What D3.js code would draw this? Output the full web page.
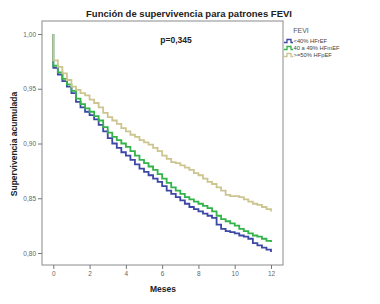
<!DOCTYPE html>
<html>
<head>
<meta charset="utf-8">
<script src="https://cdn.jsdelivr.net/npm/d3@7"></script>
<style>
  body { margin: 0; background: #fff; }
  text { font-family: "Liberation Sans", Arial, sans-serif; }
</style>
</head>
<body>
<svg width="380" height="304"></svg>
<script>
const width = 380;
const height = 304;

// meses (eje x); el primer 0 repetido marca la caída inicial desde 1,00
const months = [0, 0, 0.25, 0.5, 0.75, 1, 1.25, 1.5, 1.75, 2, 2.25, 2.5, 2.75, 3,
    3.25, 3.5, 3.75, 4, 4.25, 4.5, 4.75, 5, 5.25, 5.5, 5.75, 6, 6.25, 6.5, 6.75, 7,
    7.25, 7.5, 7.75, 8, 8.25, 8.5, 8.75, 9, 9.25, 9.5, 9.75, 10, 10.25, 10.5, 10.75,
    11, 11.25, 11.5, 11.75, 12];

const hfrEF = [1.0, 0.969, 0.963, 0.957, 0.952, 0.946, 0.938, 0.933, 0.929, 0.926,
    0.922, 0.917, 0.911, 0.905, 0.900, 0.896, 0.892, 0.889, 0.885, 0.881, 0.877,
    0.874, 0.871, 0.868, 0.865, 0.861, 0.857, 0.854, 0.851, 0.848, 0.845, 0.842,
    0.840, 0.838, 0.836, 0.834, 0.832, 0.826, 0.822, 0.820, 0.819, 0.818, 0.816,
    0.815, 0.813, 0.809, 0.807, 0.805, 0.803, 0.801];

const hfmEF = [1.0, 0.971, 0.965, 0.959, 0.954, 0.948, 0.941, 0.936, 0.932, 0.929,
    0.925, 0.921, 0.915, 0.910, 0.906, 0.903, 0.900, 0.897, 0.893, 0.889, 0.885,
    0.882, 0.879, 0.876, 0.872, 0.868, 0.864, 0.860, 0.857, 0.854, 0.851, 0.849,
    0.847, 0.845, 0.843, 0.841, 0.838, 0.834, 0.831, 0.829, 0.827, 0.825, 0.822,
    0.820, 0.818, 0.816, 0.815, 0.813, 0.811, 0.810];

const hfpEF = [1.0, 0.976, 0.970, 0.964, 0.958, 0.952, 0.949, 0.946, 0.944, 0.940,
    0.937, 0.933, 0.928, 0.924, 0.921, 0.918, 0.914, 0.911, 0.908, 0.906, 0.903,
    0.901, 0.899, 0.896, 0.893, 0.889, 0.886, 0.883, 0.882, 0.880, 0.878, 0.876,
    0.873, 0.871, 0.868, 0.865, 0.863, 0.860, 0.857, 0.853, 0.852, 0.852, 0.851,
    0.849, 0.847, 0.845, 0.844, 0.842, 0.840, 0.838];

const seriesNames = ["<40% HFrEF", "40 a 49% HFmEF", ">=50% HFpEF"];
const seriesValues = [hfrEF, hfmEF, hfpEF];
const colors = ["#3d48a6", "#33b34a", "#cdc590"];

const xTicks = [0, 2, 4, 6, 8, 10, 12];
const yTicks = [0.80, 0.85, 0.90, 0.95, 1.00];

const frame = { left: 42, top: 21, right: 283, bottom: 265 };

const svg = d3.select("svg");

const x = d3.scaleLinear().domain([0, 12]).range([53.3, 271]);
const y = d3.scaleLinear().domain([0.8, 1.0]).range([253, 34]);

// marco del gráfico
svg.append("rect")
    .attr("x", frame.left)
    .attr("y", frame.top)
    .attr("width", frame.right - frame.left)
    .attr("height", frame.bottom - frame.top)
    .attr("fill", "none")
    .attr("stroke", "#8a8a8a")
    .attr("stroke-width", 1);

// ejes
const fmt = (d) => d3.format(".2f")(d).replace(".", ",");

const yAxisG = svg.append("g")
    .attr("transform", `translate(${frame.left},0)`)
    .call(d3.axisLeft(y).tickValues(yTicks).tickSize(4).tickPadding(2).tickFormat(fmt));

const xAxisG = svg.append("g")
    .attr("transform", `translate(0,${frame.bottom})`)
    .call(d3.axisBottom(x).tickValues(xTicks).tickSize(4).tickPadding(2).tickFormat(d3.format("d")));

[yAxisG, xAxisG].forEach((g) => {
    g.select(".domain").remove();
    g.selectAll(".tick line").attr("stroke", "#777");
    g.selectAll(".tick text")
        .attr("fill", "#666")
        .style("font-size", "6.5px")
        .style("font-family", "'Liberation Sans', Arial, sans-serif");
});

// curvas de supervivencia
const line = d3.line()
    .x((d) => x(d[0]))
    .y((d) => y(d[1]))
    .curve(d3.curveStepAfter);

seriesValues.forEach((vals, i) => {
    svg.append("path")
        .attr("d", line(months.map((m, j) => [m, vals[j]])))
        .attr("fill", "none")
        .attr("stroke", colors[i])
        .attr("stroke-width", 1.8);
});

// textos
svg.append("text")
    .attr("x", 189).attr("y", 17)
    .attr("text-anchor", "middle")
    .style("font-size", "9.5px")
    .style("font-weight", "bold")
    .attr("fill", "#222")
    .text("Función de supervivencia para patrones FEVI");

svg.append("text")
    .attr("x", 176).attr("y", 43)
    .attr("text-anchor", "middle")
    .style("font-size", "8.5px")
    .style("font-weight", "bold")
    .attr("fill", "#222")
    .text("p=0,345");

svg.append("text")
    .attr("x", 163).attr("y", 292)
    .attr("text-anchor", "middle")
    .style("font-size", "8.5px")
    .style("font-weight", "bold")
    .attr("fill", "#222")
    .text("Meses");

svg.append("text")
    .attr("transform", "translate(17,144) rotate(-90)")
    .attr("text-anchor", "middle")
    .style("font-size", "8.5px")
    .style("font-weight", "bold")
    .attr("fill", "#222")
    .text("Supervivencia acumulada");

// leyenda
svg.append("text")
    .attr("x", 301).attr("y", 33)
    .attr("text-anchor", "middle")
    .style("font-size", "7px")
    .attr("fill", "#555")
    .text("FEVI");

const legend = svg.append("g")
    .selectAll("g")
    .data(seriesNames)
    .join("g")
    .attr("transform", (d, i) => `translate(284,${41 + i * 7})`);

legend.append("path")
    .attr("d", "M0,1.5 H3 V-1.5 H7 V1.5 H9")
    .attr("fill", "none")
    .attr("stroke", (d, i) => colors[i])
    .attr("stroke-width", 1.3);

legend.append("text")
    .attr("x", 9.5).attr("y", 2.2)
    .style("font-size", "5.8px")
    .attr("fill", "#444")
    .text((d) => d);
</script>
</body>
</html>
